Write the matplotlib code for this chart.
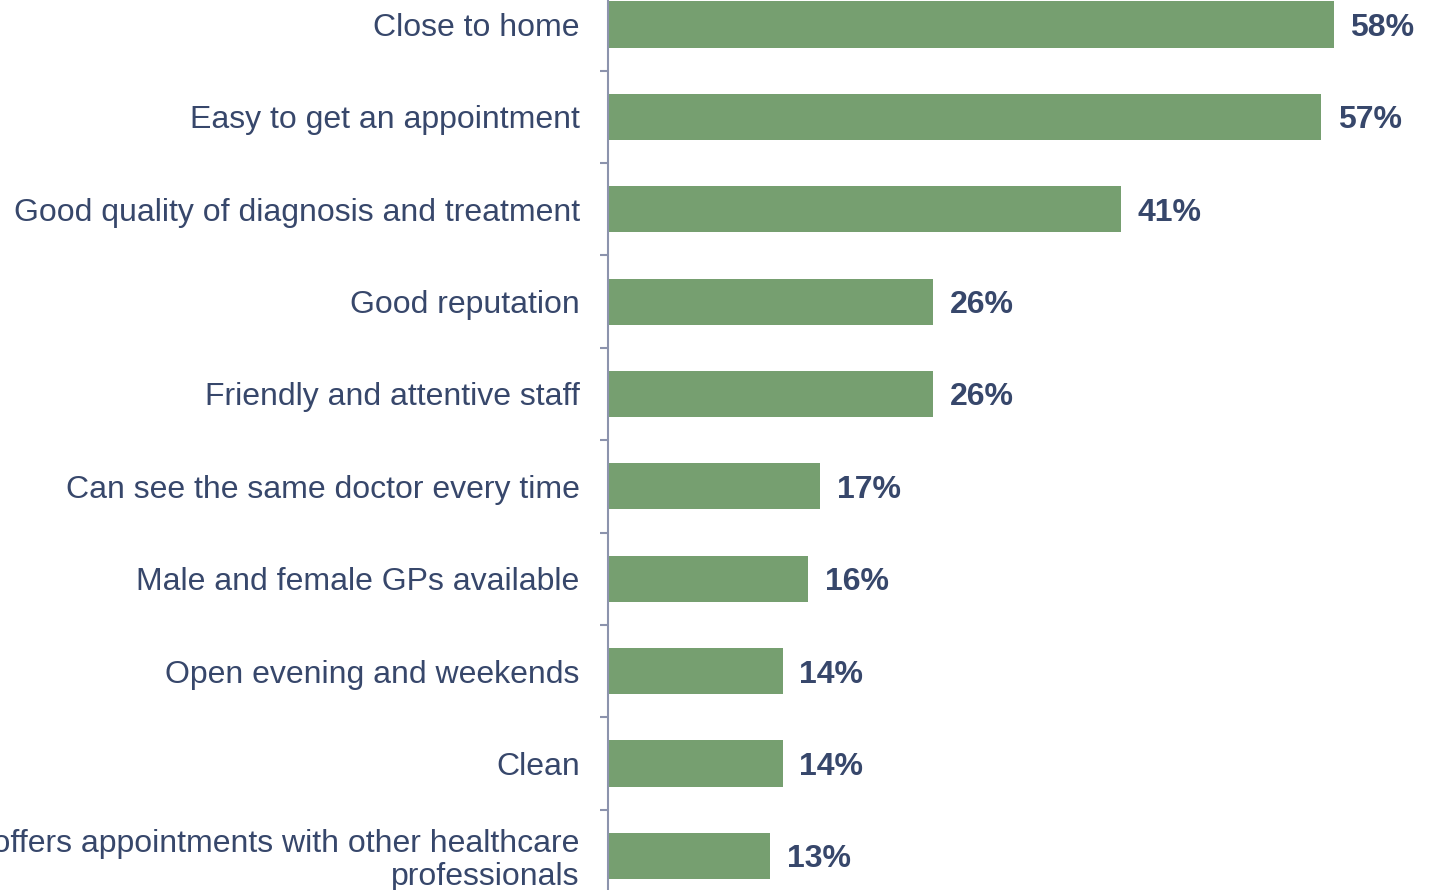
import numpy as np
import matplotlib
matplotlib.use("Agg")
import matplotlib.pyplot as plt

# survey answers, top to bottom
categories = [
    "Close to home",
    "Easy to get an appointment",
    "Good quality of diagnosis and treatment",
    "Good reputation",
    "Friendly and attentive staff",
    "Can see the same doctor every time",
    "Male and female GPs available",
    "Open evening and weekends",
    "Clean",
    "Practice offers appointments with other healthcare\nprofessionals",
]
shares = [58, 57, 41, 26, 26, 17, 16, 14, 14, 13]

BAR_COLOR = "#769f70"
TEXT_COLOR = "#37476b"
AXIS_COLOR = "#8c93ad"

plt.rcParams["font.family"] = ["Liberation Sans", "DejaVu Sans"]

fig = plt.figure(figsize=(14.34, 8.9), dpi=100)
ax = fig.add_axes([607.5 / 1434, 0, 1 - 607.5 / 1434, 1])

y = np.arange(len(categories))
bars = ax.barh(y, shares, height=0.5, color=BAR_COLOR)

for yi, v in zip(y, shares):
    ax.annotate(f"{v}%", xy=(v, yi), xytext=(12, 0), textcoords="offset points",
                ha="left", va="center_baseline", fontsize=23, fontweight="bold",
                color=TEXT_COLOR)

ax.set_xlim(0, 66)
ax.set_ylim(9.37, -0.265)

ax.set_yticks(y)
ax.set_yticklabels(categories, fontsize=23, color=TEXT_COLOR, linespacing=1.1)
ax.tick_params(axis="y", which="major", length=0, pad=20)
ax.set_yticks(y[:-1] + 0.5, minor=True)
ax.tick_params(axis="y", which="minor", length=5.8, width=1.5, color=AXIS_COLOR)
ax.set_xticks([])

for side in ["top", "right", "bottom"]:
    ax.spines[side].set_visible(False)
ax.spines["left"].set_color(AXIS_COLOR)
ax.spines["left"].set_linewidth(1.5)

fig.savefig("out.png", dpi=100)
